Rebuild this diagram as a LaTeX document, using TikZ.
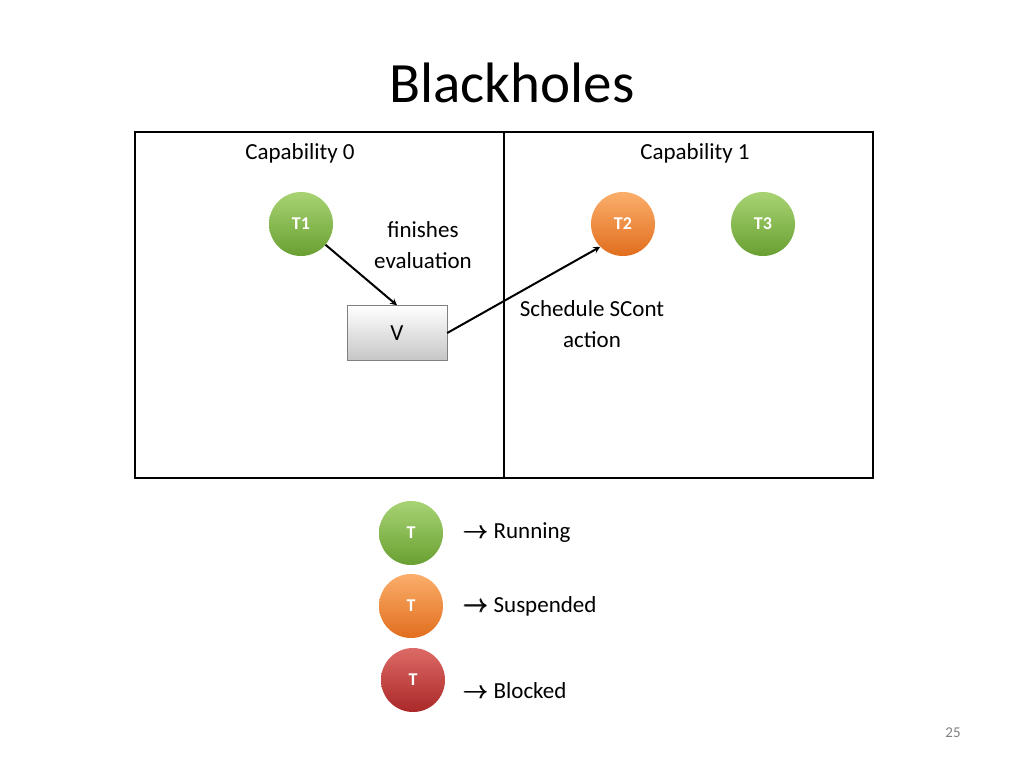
\documentclass[tikz,border=0pt]{standalone}
\usepackage{amsmath}
\usepackage{fontspec}
\setmainfont{Carlito}
\usetikzlibrary{positioning}
\definecolor{runG}{RGB}{146,200,80}
\definecolor{runGd}{RGB}{105,160,50}
\definecolor{susO}{RGB}{250,160,80}
\definecolor{susOd}{RGB}{225,110,30}
\definecolor{blkR}{RGB}{215,80,75}
\definecolor{blkRd}{RGB}{170,40,40}
\tikzset{
  thread/.style={circle,minimum size=64pt,inner sep=0pt,text=white,
    font=\fontsize{18}{18}\selectfont\bfseries},
  running/.style={thread,top color=runG!80!white,bottom color=runGd},
  suspended/.style={thread,top color=susO!85!white,bottom color=susOd},
  blocked/.style={thread,top color=blkR!85!white,bottom color=blkRd},
  txt/.style={font=\fontsize{23}{31}\selectfont,align=center},
  link/.style={->,line width=2pt,>=stealth}
}
\begin{document}
\begin{tikzpicture}[x=1pt,y=-1pt]
    \useasboundingbox (0,0) rectangle (1024,768);
    \node[font=\fontsize{57}{57}\selectfont] (title) at (512,83) {Blackholes};
    % capabilities
    \draw[line width=2.5pt] (135,132) rectangle (504,478);
    \draw[line width=2.5pt] (504,132) rectangle (873,478);
    \node[txt] (cap0) at (300,153) {Capability 0};
    \node[txt] (cap1) at (695,153) {Capability 1};
    \node[running] (t1) at (301,224) {T1};
    \node[suspended] (t2) at (623,224) {T2};
    \node[running] (t3) at (763,224) {T3};
    \node[txt] (fin) at (423,245) {finishes\\evaluation};
    \node[draw=gray,top color=white,bottom color=gray!45,minimum width=100pt,
          minimum height=55pt,txt] (v) at (397,333) {V};
    \node[txt] (sched) at (592,324) {Schedule SCont\\action};
    \draw[link] (t1) -- (v.north);
    \draw[link] (v.east) -- (t2.south west);
    % legend
    \node[running] (lr) at (411,533) {T};
    \node[suspended] (ls) at (411,606) {T};
    \node[blocked] (lb) at (413,680) {T};
    \node[txt,anchor=west] at (460,533) {$\pmb{\rightarrow}$ Running};
    \node[txt,anchor=west] at (460,606) {$\pmb{\rightarrow}$ Suspended};
    \node[txt,anchor=west] at (460,691) {$\pmb{\rightarrow}$ Blocked};
    \node[font=\fontsize{15}{15}\selectfont,text=gray] (pg) at (953,733) {25};
\end{tikzpicture}
\end{document}
